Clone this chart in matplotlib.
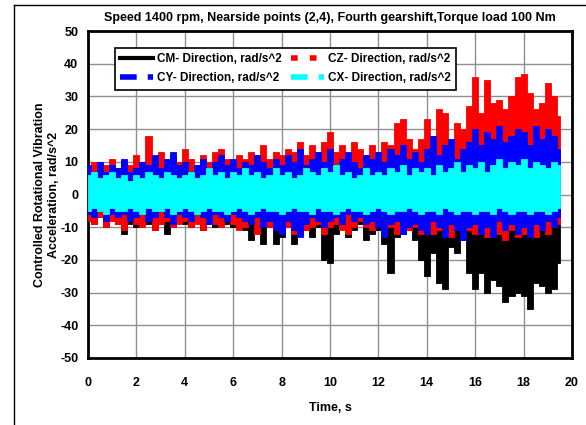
import matplotlib
matplotlib.use("Agg")
import matplotlib.pyplot as plt
import numpy as np
from matplotlib import font_manager
from matplotlib.lines import Line2D

# envelope values, one value every 0.25 s (0 .. 19.5 s)
cm_upper = [4, 5, 4, 5, 4, 5, 4, 5,  4, 5, 4, 5, 4, 5, 4, 5,
            4, 5, 4, 5, 4, 5, 4, 5,  4, 5, 4, 5, 4, 5, 4, 5,
            4, 5, 4, 5, 4, 5, 4, 5,  5, 4, 5, 4, 5, 4, 5, 4,
            5, 4, 5, 4, 5, 4, 5, 4,  5, 6, 5, 6, 5, 6, 5, 6,
            6, 5, 6, 5, 6, 5, 6, 5,  6, 5, 6, 5, 6, 5, 6]
cm_lower = [-8, -9, -7, -10, -8, -9, -12, -9,  -10, -8, -9, -11, -9, -12, -10, -8,
            -9, -10, -8, -11, -9, -10, -8, -9,  -10, -9, -11, -14, -9, -15, -10, -15,
            -13, -10, -15, -12, -11, -13, -10, -20,  -21, -12, -10, -13, -11, -9, -14, -12,
            -11, -15, -24, -13, -12, -11, -14, -20,  -25, -18, -27, -29, -16, -18, -14, -24,
            -29, -24, -30, -26, -28, -33, -31, -30,  -31, -35, -27, -28, -30, -29, -21]

cz_upper = [8, 10, 7, 9, 11, 8, 10, 9,  12, 10, 18, 9, 13, 11, 12, 10,
            14, 11, 9, 12, 10, 13, 14, 11,  10, 12, 11, 13, 12, 15, 11, 13,
            12, 14, 13, 16, 12, 15, 13, 16,  19, 13, 15, 12, 16, 14, 12, 15,
            13, 16, 15, 22, 23, 17, 14, 17,  23, 18, 26, 25, 17, 22, 20, 27,
            36, 25, 35, 28, 29, 26, 30, 36,  37, 31, 26, 28, 34, 30, 24]
cz_lower = [-8, -9, -7, -10, -8, -9, -11, -8,  -9, -10, -8, -11, -9, -8, -10, -9,
            -8, -10, -9, -11, -8, -9, -10, -8,  -9, -11, -10, -8, -12, -9, -10, -11,
            -9, -10, -12, -9, -11, -10, -9, -12,  -10, -9, -11, -12, -10, -8, -10, -11,
            -9, -11, -10, -12, -9, -11, -10, -12,  -10, -12, -11, -9, -13, -10, -12, -11,
            -12, -10, -13, -11, -12, -14, -11, -13,  -12, -10, -13, -11, -12, -10, -9]

cy_upper = [9, 6, 10, 7, 9, 8, 11, 7,  8, 10, 9, 12, 8, 11, 13, 9,
            10, 7, 9, 11, 8, 10, 12, 9,  11, 8, 10, 9, 12, 10, 8, 11,
            9, 12, 10, 14, 9, 11, 13, 10,  14, 9, 11, 13, 10, 8, 12, 11,
            13, 10, 14, 12, 15, 11, 13, 10,  14, 18, 12, 15, 17, 11, 14, 16,
            20, 15, 19, 17, 21, 16, 18, 20,  19, 15, 21, 17, 20, 18, 14]
cy_lower = [-6, -7, -5, -8, -6, -7, -6, -8,  -7, -6, -8, -7, -5, -7, -9, -6,
            -7, -8, -6, -7, -9, -6, -7, -8,  -6, -7, -8, -9, -7, -10, -8, -11,
            -12, -8, -11, -13, -9, -7, -8, -10,  -8, -7, -9, -6, -8, -7, -9, -8,
            -10, -13, -9, -8, -12, -10, -9, -11,  -12, -8, -10, -13, -9, -11, -14, -10,
            -9, -12, -10, -13, -8, -11, -9, -12,  -10, -13, -9, -11, -8, -10, -7]

cx_upper = [6, 7, 5, 6, 7, 5, 6, 4,  6, 5, 7, 6, 5, 7, 6, 5,
            6, 7, 5, 6, 8, 6, 7, 5,  7, 6, 8, 6, 7, 5, 6, 8,
            6, 7, 5, 6, 8, 7, 6, 8,  7, 9, 6, 7, 5, 6, 8, 6,
            7, 6, 8, 7, 9, 6, 8, 7,  8, 6, 9, 7, 8, 10, 7, 9,
            8, 10, 7, 9, 11, 8, 10, 9,  11, 8, 10, 9, 8, 10, 9]
cx_lower = [-5, -4, -5, -6, -4, -5, -5, -4,  -5, -6, -4, -5, -5, -4, -6, -5,
            -4, -5, -6, -5, -4, -5, -5, -6,  -5, -4, -5, -6, -5, -4, -5, -5,
            -6, -5, -4, -5, -5, -6, -4, -5,  -5, -6, -5, -4, -5, -5, -6, -5,
            -4, -5, -6, -5, -5, -4, -5, -6,  -5, -5, -6, -4, -5, -6, -5, -5,
            -6, -5, -5, -6, -4, -5, -6, -5,  -5, -6, -5, -5, -6, -5, -4]

labels = ["CM- Direction, rad/s^2", "CZ- Direction, rad/s^2",
          "CY- Direction, rad/s^2", "CX- Direction, rad/s^2"]
title = "Speed 1400 rpm, Nearside points (2,4), Fourth gearshift,Torque load 100 Nm"

t = np.arange(len(cm_upper)) * 0.25

names = {f.name for f in font_manager.fontManager.ttflist}
fam = "Liberation Sans Narrow" if "Liberation Sans Narrow" in names else "Liberation Sans"
plt.rcParams["font.family"] = [fam, "DejaVu Sans"]
plt.rcParams["font.weight"] = "bold"
plt.rcParams["axes.unicode_minus"] = False

fig = plt.figure(figsize=(5.86, 4.25), dpi=100)
ax = fig.add_axes([88 / 586, 1 - 358 / 425, (572 - 88) / 586, (358 - 31) / 425])

series = [(cm_lower, cm_upper, "black"),
          (cz_lower, cz_upper, "red"),
          (cy_lower, cy_upper, "#0000ff"),
          (cx_lower, cx_upper, "cyan")]
for lo, hi, col in series:
    ax.fill_between(t, lo, hi, step="mid", color=col, lw=0.6, ec=col, zorder=3)

ax.set_xlim(0, 20)
ax.set_ylim(-50, 50)
ax.set_xticks(np.arange(0, 21, 2))
ax.set_yticks(np.arange(-50, 51, 10))
ax.grid(True, color="#909090", lw=1.0)
ax.set_axisbelow(True)
for s in ax.spines.values():
    s.set_linewidth(2)
ax.tick_params(length=0, labelsize=9)
ax.tick_params(axis="x", pad=14)
ax.tick_params(axis="y", pad=7)
for lab in ax.get_xticklabels() + ax.get_yticklabels():
    lab.set_fontweight("bold")

ax.set_title(title, fontsize=9, fontweight="bold", pad=7)
ax.set_xlabel("Time, s", fontsize=9, fontweight="bold", labelpad=9)
ax.set_ylabel("Controlled Rotational Vibration\nAcceleration, rad/s^2",
              fontsize=9, fontweight="bold", labelpad=0)

# legend fills column by column: CM, CY | CZ, CX
h_cm = Line2D([0], [0], color="black", lw=3)
h_cz = Line2D([0], [0], color="red", lw=4, dashes=(1.2, 2.2))
h_cy = Line2D([0], [0], color="#0000ff", lw=4, dashes=(3, 2))
h_cx = Line2D([0], [0], color="cyan", lw=4, dashes=(3, 2))
leg = ax.legend([h_cm, h_cy, h_cz, h_cx],
                [labels[0], labels[2], labels[1], labels[3]], ncol=2, loc="upper left",
                bbox_to_anchor=((109 - 88) / 484, 1 - (42 - 31) / 327),
                fancybox=False, edgecolor="black", framealpha=1,
                prop={"weight": "bold", "size": 8.5}, handlelength=2.8,
                columnspacing=0.8, handletextpad=0.3, borderpad=0.45,
                labelspacing=0.6)
leg.get_frame().set_linewidth(1.2)
leg.set_zorder(5)

# outer border of the picture
fig.add_artist(Line2D([14 / 586, 14 / 586], [0, 1 - 5 / 425], color="black", lw=1))
fig.add_artist(Line2D([14 / 586, 1], [1 - 5 / 425, 1 - 5 / 425], color="black", lw=1))

fig.savefig("out.png", dpi=100)
